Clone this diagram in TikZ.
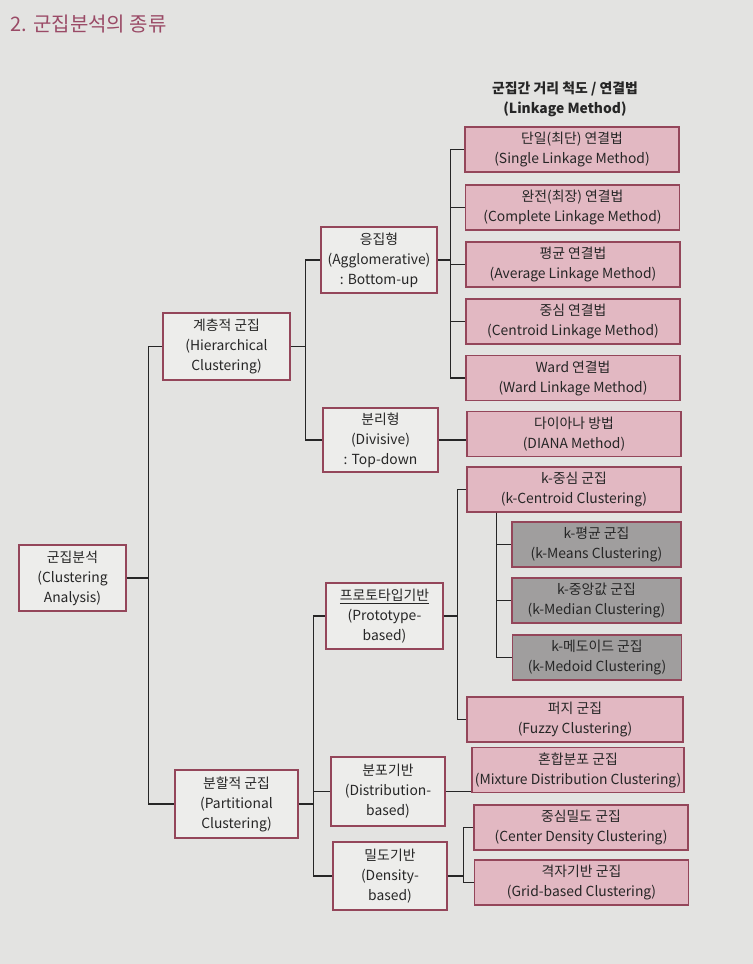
\documentclass[tikz,border=0pt]{standalone}
\usepackage{fontspec}
\setmainfont{Noto Sans CJK KR}
\usetikzlibrary{positioning}
\definecolor{paper}{HTML}{E3E3E1}
\definecolor{frame}{HTML}{94465A}
\definecolor{pinkfill}{HTML}{E2B8C2}
\definecolor{greyfill}{HTML}{A09E9E}
\definecolor{plainfill}{HTML}{EDEDEB}
\definecolor{titlecol}{HTML}{9A4A66}
\tikzset{
  box/.style={draw=frame, line width=0.8pt, align=center, inner sep=2pt,
              font=\fontsize{10.4}{15}\selectfont, text=black!85},
  plainbox/.style={box, fill=plainfill},
  pinkbox/.style={box, fill=pinkfill, minimum width=214*0.75pt, minimum height=45*0.75pt},
  greybox/.style={box, fill=greyfill, minimum width=169*0.75pt, minimum height=45*0.75pt},
  link/.style={line width=1pt, black!85},
}
\begin{document}
\begin{tikzpicture}[x=0.75pt,y=-0.75pt]
\fill[paper] (0,0) rectangle (753,964);
\useasboundingbox (0,0) rectangle (753,964);

% heading
\node[anchor=base west, text=titlecol, font=\fontsize{15}{17}\selectfont] (title) at (6,31) {2. 군집분석의 종류};
\node[align=center, font=\bfseries\fontsize{10.4}{15}\selectfont, text=black!85] (lhead) at (565,99)
  {군집간 거리 척도 / 연결법\\(Linkage Method)};

% left-hand tree
\node[plainbox, minimum width=107*0.75pt, minimum height=66*0.75pt] (root) at (72.5,578) {군집분석\\(Clustering\\Analysis)};
\node[plainbox, minimum width=127*0.75pt, minimum height=67*0.75pt] (hier) at (226.5,346.5) {계층적 군집\\(Hierarchical\\Clustering)};
\node[plainbox, minimum width=123*0.75pt, minimum height=68*0.75pt] (part) at (236.5,804) {분할적 군집\\(Partitional\\Clustering)};
\node[plainbox, minimum width=116*0.75pt, minimum height=66*0.75pt] (agg) at (379,260) {응집형\\(Agglomerative)\\: Bottom-up};
\node[plainbox, minimum width=115*0.75pt, minimum height=64*0.75pt] (divi) at (380.5,440) {분리형\\(Divisive)\\: Top-down};
\node[plainbox, minimum width=117*0.75pt, minimum height=66*0.75pt] (proto) at (384.5,616) {\underline{프로토타입기반}\\(Prototype-\\based)};
\node[plainbox, minimum width=114*0.75pt, minimum height=69*0.75pt] (distr) at (388,791.5) {분포기반\\(Distribution-\\based)};
\node[plainbox, minimum width=114*0.75pt, minimum height=68*0.75pt] (dens) at (390,876) {밀도기반\\(Density-\\based)};

% leaf boxes
\node[pinkbox] (single) at (572,149.5) {단일(최단) 연결법\\(Single Linkage Method)};
\node[pinkbox] (complete) at (572.5,207.5) {완전(최장) 연결법\\(Complete Linkage Method)};
\node[pinkbox] (average) at (573,264.5) {평균 연결법\\(Average Linkage Method)};
\node[pinkbox] (centroid) at (573,321.5) {중심 연결법\\(Centroid Linkage Method)};
\node[pinkbox] (ward) at (573,378) {Ward 연결법\\(Ward Linkage Method)};
\node[pinkbox] (diana) at (574,434) {다이아나 방법\\(DIANA Method)};
\node[pinkbox] (kcent) at (574,489.5) {k-중심 군집\\(k-Centroid Clustering)};
\node[greybox] (kmeans) at (596.5,544.5) {k-평균 군집\\(k-Means Clustering)};
\node[greybox] (kmedian) at (596.5,600.5) {k-중앙값 군집\\(k-Median Clustering)};
\node[greybox] (kmedoid) at (597,657.5) {k-메도이드 군집\\(k-Medoid Clustering)};
\node[pinkbox, minimum width=216*0.75pt] (fuzzy) at (575,719.5) {퍼지 군집\\(Fuzzy Clustering)};
\node[pinkbox, minimum width=212*0.75pt] (mixture) at (578,770) {혼합분포 군집\\(Mixture Distribution Clustering)};
\node[pinkbox] (cdens) at (581,827.5) {중심밀도 군집\\(Center Density Clustering)};
\node[pinkbox] (grid) at (581.5,882.5) {격자기반 군집\\(Grid-based Clustering)};

% connectors
\draw[link] (root.east) -- ++(22,0) coordinate (jroot);
\draw[link] (jroot) |- (hier.west);
\draw[link] (jroot) |- (part.west);

\draw[link] (hier.east) -- ++(15,0) coordinate (jhier);
\draw[link] (jhier) |- (agg.west);
\draw[link] (jhier) |- (divi.west);

\draw[link] (agg.east) -- ++(13,0) coordinate (jagg);
\foreach \n in {single,complete,average,centroid,ward}
  \draw[link] (jagg) |- (\n.west);

\draw[link] (divi.east) -- (diana.west |- divi.east);

\draw[link] (part.east) -- ++(15,0) coordinate (jpart);
\draw[link] (jpart) |- (proto.west);
\draw[link] (jpart) |- (distr.west);
\draw[link] (jpart) |- (dens.west);

\draw[link] (proto.east) -- ++(14,0) coordinate (jproto);
\draw[link] (jproto) |- (kcent.west);
\draw[link] (jproto) |- (fuzzy.west);

\coordinate (jkc) at ([xshift=30*0.75pt]kcent.south west);
\foreach \n in {kmeans,kmedian,kmedoid}
  \draw[link] (jkc) |- (\n.west);

\draw[link] (distr.east) -- (mixture.west |- distr.east);

\draw[link] (dens.east) -- ++(16,0) coordinate (jdens);
\draw[link] (jdens) |- (cdens.west);
\draw[link] (jdens) |- (grid.west);
\end{tikzpicture}
\end{document}
